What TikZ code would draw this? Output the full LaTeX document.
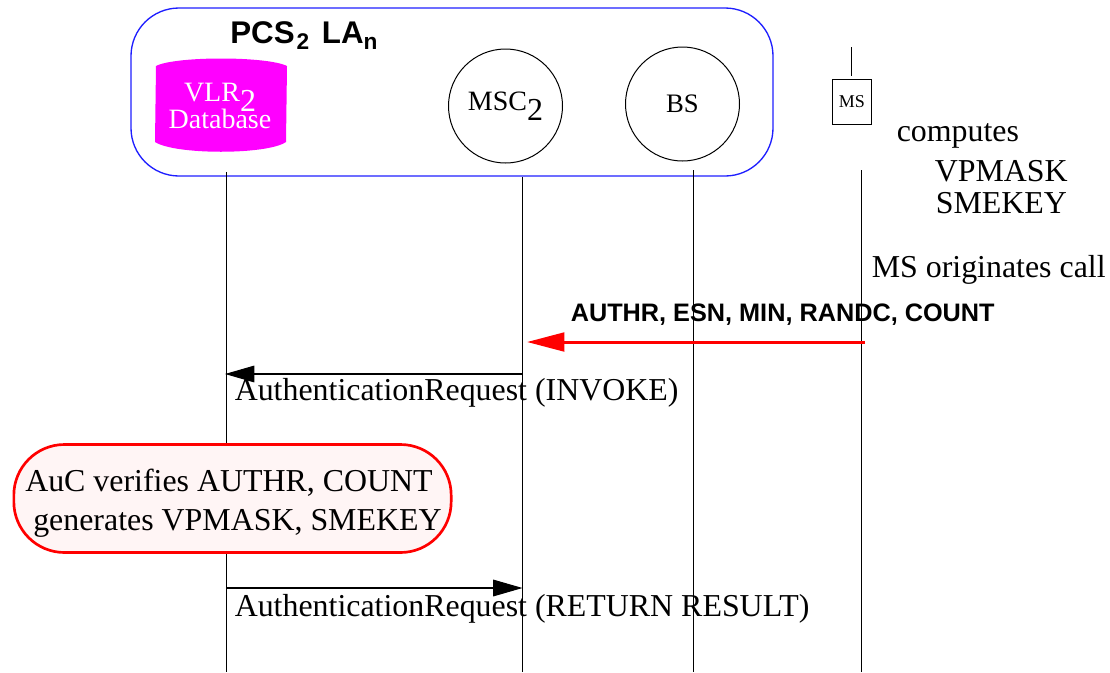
\documentclass[tikz,border=0pt]{standalone}
\usepackage{fontspec}
\setmainfont{Liberation Serif}
\setsansfont{Liberation Sans}
\usepackage{tikz}
\usetikzlibrary{positioning, arrows.meta}
\definecolor{vlrmagenta}{RGB}{255,0,255}
\definecolor{aucfill}{RGB}{255,245,245}
\newcommand{\Fsize}[1]{\fontsize{#1}{#1}\selectfont}
\newcommand{\Lowered}[2]{\raisebox{#1}{\Fsize{24}#2}}
\tikzset{
    station/.style={circle, draw, line width=0.75pt, minimum size=85.5pt, inner sep=0pt},
    lifeline/.style={draw, line width=0.8pt},
    msg/.style={anchor=base west, inner sep=0pt, font=\Fsize{23.92}},
    msgarrow/.style={line width=0.8pt, -{Triangle[length=22pt, width=12.5pt]}},
    heading/.style={anchor=base west, inner sep=0pt, font=\sffamily\bfseries\Fsize{18.95}},
}

\begin{document}
\begin{tikzpicture}[x=0.75pt, y=-0.75pt]
    \useasboundingbox (0,0) rectangle (1110,672);

    % group box
    \node[draw={rgb,255:red,30;green,30;blue,255}, line width=1pt, rounded corners=36pt, minimum width=481.5pt, minimum height=126pt, inner sep=0pt] (pcs) at (452,92) {};
    \node[heading, font=\sffamily\bfseries\Fsize{23.5}] (pcslabel) at (230,43) {PCS\hspace{1.5pt}\raisebox{-4.5pt}{\Fsize{17}2}\hspace{9.5pt}LA\raisebox{-4.5pt}{\Fsize{17}n}};

    % stations
    \fill[vlrmagenta] (156,66) .. controls (175,56) and (267,56) .. (287,66) -- (286,142) .. controls (267,155) and (175,155) .. (155,142) -- cycle;
    \node[anchor=base, inner sep=0pt, text=white, font=\Fsize{21}] (vlrname) at (220,101) {VLR\Lowered{-7.5pt}{2}};
    \node[anchor=base, inner sep=0pt, text=white, font=\Fsize{21}] (vlrdb) at (220,128) {Database};
    \node[station, font=\Fsize{21}] (msc) at (505.5,106) {MSC\Lowered{-7.5pt}{2}};
    \node[station, right=46.5pt of msc, yshift=1.5pt, font=\Fsize{20}] (bs) {BS};
    \node[draw, line width=0.75pt, minimum width=29pt, minimum height=34pt, inner sep=0pt, right=69pt of bs, yshift=1.5pt, font=\Fsize{13.5}] (ms) {MS};
    \coordinate (anttop) at (851.5,47);
    \coordinate (antbase) at (851.5,76);
    \draw[lifeline] (anttop) -- (antbase);

    % lifelines
    \coordinate (vlrtop) at (226.5,172);
    \coordinate (vlrend) at (226.5,672);
    \coordinate (msctop) at (522.5,177);
    \coordinate (mscend) at (522.5,672);
    \coordinate (bstop) at (693.5,170);
    \coordinate (bsend) at (693.5,672);
    \coordinate (mstop) at (861.5,170);
    \coordinate (msend) at (861.5,672);
    \draw[lifeline] (vlrtop) -- (vlrend);
    \draw[lifeline] (msctop) -- (mscend);
    \draw[lifeline] (bstop) -- (bsend);
    \draw[lifeline] (mstop) -- (msend);

    % MS side text
    \node[msg] (computes) at (896.5,141) {computes};
    \node[msg] (vpmask) at (934.5,181) {VPMASK};
    \node[msg] (smekey) at (935.5,213) {SMEKEY};
    \node[msg] (originates) at (871.5,277) {MS originates call};
    \node[heading] (authr) at (570.5,321) {AUTHR, ESN, MIN, RANDC, COUNT};

    % messages
    \coordinate (msout) at (865,342);
    \coordinate (mscin) at (527,342);
    \draw[red, line width=2.25pt, -{Triangle[length=28pt, width=14pt]}] (msout) -- (mscin);
    \coordinate (mscreq) at (522,374);
    \coordinate (vlrreq) at (225,374);
    \draw[msgarrow] (mscreq) -- (vlrreq);
    \node[msg] (invoke) at (234.5,400) {AuthenticationRequest (INVOKE)};

    \node[draw=red, fill=aucfill, line width=2pt, rounded corners=38pt, minimum width=328pt, minimum height=81pt, inner sep=0pt] (auc) at (232.5,498.5) {};
    \node[msg] (aucline) at (25,491) {AuC verifies AUTHR, COUNT};
    \node[msg] (genline) at (33,530) {generates VPMASK, SMEKEY};

    \coordinate (vlrres) at (226,588);
    \coordinate (mscres) at (522.5,588);
    \draw[msgarrow] (vlrres) -- (mscres);
    \node[msg] (result) at (234.5,616) {AuthenticationRequest (RETURN RESULT)};
\end{tikzpicture}
\end{document}
